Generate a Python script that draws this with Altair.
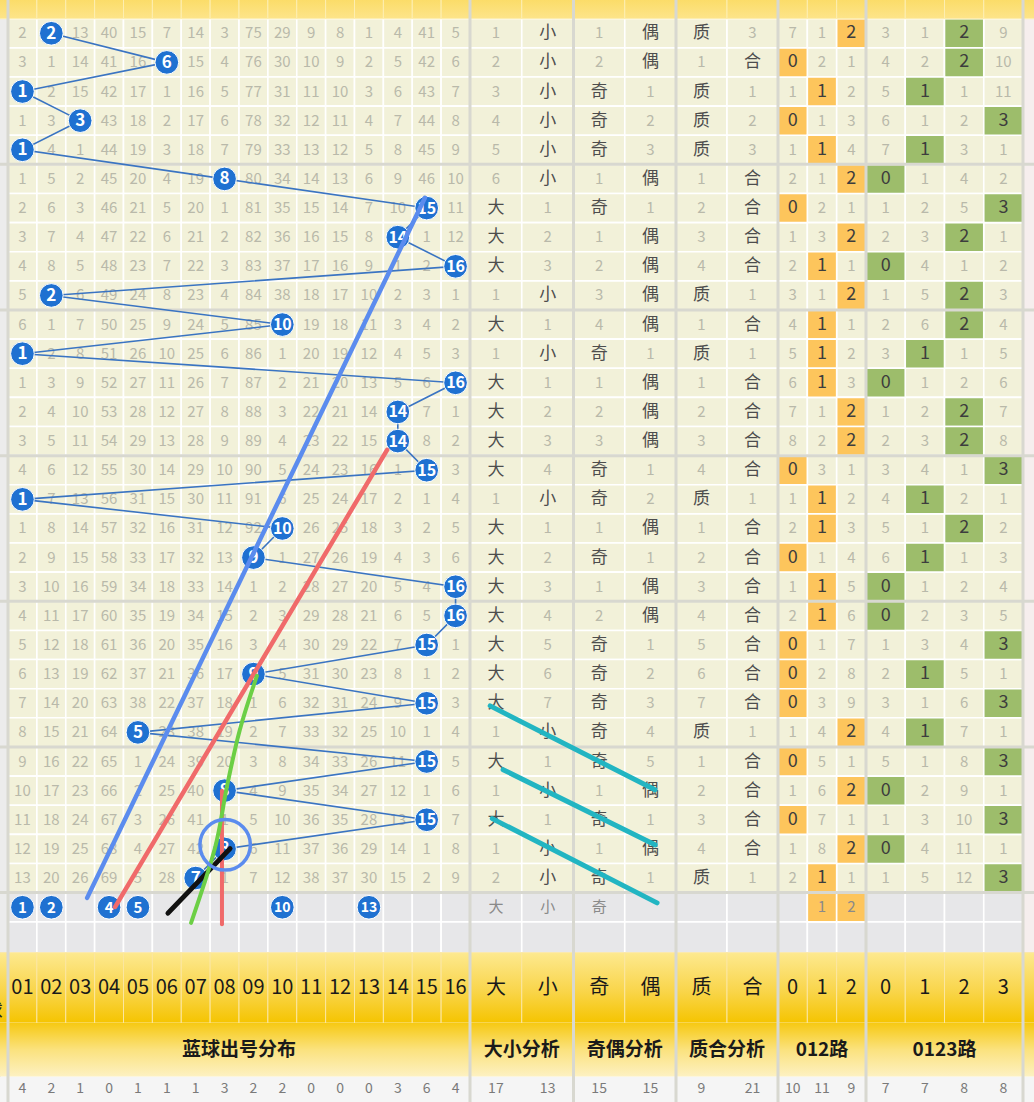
import altair as alt
import pandas as pd

# ---------------- data ----------------
drawn = [2, 6, 1, 3, 1, 8, 15, 14, 16, 2, 10, 1, 16, 14, 14, 15, 1, 10, 9, 16,
         16, 15, 9, 15, 5, 15, 8, 15, 8, 7]

omit = [
    [2, 0, 13, 40, 15, 7, 14, 3, 75, 29, 9, 8, 1, 4, 41, 5],
    [3, 1, 14, 41, 16, 0, 15, 4, 76, 30, 10, 9, 2, 5, 42, 6],
    [0, 2, 15, 42, 17, 1, 16, 5, 77, 31, 11, 10, 3, 6, 43, 7],
    [1, 3, 0, 43, 18, 2, 17, 6, 78, 32, 12, 11, 4, 7, 44, 8],
    [0, 4, 1, 44, 19, 3, 18, 7, 79, 33, 13, 12, 5, 8, 45, 9],
    [1, 5, 2, 45, 20, 4, 19, 0, 80, 34, 14, 13, 6, 9, 46, 10],
    [2, 6, 3, 46, 21, 5, 20, 1, 81, 35, 15, 14, 7, 10, 0, 11],
    [3, 7, 4, 47, 22, 6, 21, 2, 82, 36, 16, 15, 8, 0, 1, 12],
    [4, 8, 5, 48, 23, 7, 22, 3, 83, 37, 17, 16, 9, 1, 2, 0],
    [5, 0, 6, 49, 24, 8, 23, 4, 84, 38, 18, 17, 10, 2, 3, 1],
    [6, 1, 7, 50, 25, 9, 24, 5, 85, 0, 19, 18, 11, 3, 4, 2],
    [0, 2, 8, 51, 26, 10, 25, 6, 86, 1, 20, 19, 12, 4, 5, 3],
    [1, 3, 9, 52, 27, 11, 26, 7, 87, 2, 21, 20, 13, 5, 6, 0],
    [2, 4, 10, 53, 28, 12, 27, 8, 88, 3, 22, 21, 14, 0, 7, 1],
    [3, 5, 11, 54, 29, 13, 28, 9, 89, 4, 23, 22, 15, 0, 8, 2],
    [4, 6, 12, 55, 30, 14, 29, 10, 90, 5, 24, 23, 16, 1, 0, 3],
    [0, 7, 13, 56, 31, 15, 30, 11, 91, 6, 25, 24, 17, 2, 1, 4],
    [1, 8, 14, 57, 32, 16, 31, 12, 92, 0, 26, 25, 18, 3, 2, 5],
    [2, 9, 15, 58, 33, 17, 32, 13, 0, 1, 27, 26, 19, 4, 3, 6],
    [3, 10, 16, 59, 34, 18, 33, 14, 1, 2, 28, 27, 20, 5, 4, 0],
    [4, 11, 17, 60, 35, 19, 34, 15, 2, 3, 29, 28, 21, 6, 5, 0],
    [5, 12, 18, 61, 36, 20, 35, 16, 3, 4, 30, 29, 22, 7, 0, 1],
    [6, 13, 19, 62, 37, 21, 36, 17, 0, 5, 31, 30, 23, 8, 1, 2],
    [7, 14, 20, 63, 38, 22, 37, 18, 1, 6, 32, 31, 24, 9, 0, 3],
    [8, 15, 21, 64, 0, 23, 38, 19, 2, 7, 33, 32, 25, 10, 1, 4],
    [9, 16, 22, 65, 1, 24, 39, 20, 3, 8, 34, 33, 26, 11, 0, 5],
    [10, 17, 23, 66, 2, 25, 40, 0, 4, 9, 35, 34, 27, 12, 1, 6],
    [11, 18, 24, 67, 3, 26, 41, 1, 5, 10, 36, 35, 28, 13, 0, 7],
    [12, 19, 25, 68, 4, 27, 42, 0, 6, 11, 37, 36, 29, 14, 1, 8],
    [13, 20, 26, 69, 5, 28, 0, 1, 7, 12, 38, 37, 30, 15, 2, 9],
]

big_small = [("1", "小"), ("2", "小"), ("3", "小"), ("4", "小"), ("5", "小"),
             ("6", "小"), ("大", "1"), ("大", "2"), ("大", "3"), ("1", "小"),
             ("大", "1"), ("1", "小"), ("大", "1"), ("大", "2"), ("大", "3"),
             ("大", "4"), ("1", "小"), ("大", "1"), ("大", "2"), ("大", "3"),
             ("大", "4"), ("大", "5"), ("大", "6"), ("大", "7"), ("1", "小"),
             ("大", "1"), ("1", "小"), ("大", "1"), ("1", "小"), ("2", "小")]

odd_even = [("1", "偶"), ("2", "偶"), ("奇", "1"), ("奇", "2"), ("奇", "3"),
            ("1", "偶"), ("奇", "1"), ("1", "偶"), ("2", "偶"), ("3", "偶"),
            ("4", "偶"), ("奇", "1"), ("1", "偶"), ("2", "偶"), ("3", "偶"),
            ("奇", "1"), ("奇", "2"), ("1", "偶"), ("奇", "1"), ("1", "偶"),
            ("2", "偶"), ("奇", "1"), ("奇", "2"), ("奇", "3"), ("奇", "4"),
            ("奇", "5"), ("1", "偶"), ("奇", "1"), ("1", "偶"), ("奇", "1")]

prime_comp = [("质", "3"), ("1", "合"), ("质", "1"), ("质", "2"), ("质", "3"),
              ("1", "合"), ("2", "合"), ("3", "合"), ("4", "合"), ("质", "1"),
              ("1", "合"), ("质", "1"), ("1", "合"), ("2", "合"), ("3", "合"),
              ("4", "合"), ("质", "1"), ("1", "合"), ("2", "合"), ("3", "合"),
              ("4", "合"), ("5", "合"), ("6", "合"), ("7", "合"), ("质", "1"),
              ("1", "合"), ("2", "合"), ("3", "合"), ("4", "合"), ("质", "1")]

road3 = [[7, 1, 2], [0, 2, 1], [1, 1, 2], [0, 1, 3], [1, 1, 4], [2, 1, 2],
         [0, 2, 1], [1, 3, 2], [2, 1, 1], [3, 1, 2], [4, 1, 1], [5, 1, 2],
         [6, 1, 3], [7, 1, 2], [8, 2, 2], [0, 3, 1], [1, 1, 2], [2, 1, 3],
         [0, 1, 4], [1, 1, 5], [2, 1, 6], [0, 1, 7], [0, 2, 8], [0, 3, 9],
         [1, 4, 2], [0, 5, 1], [1, 6, 2], [0, 7, 1], [1, 8, 2], [2, 1, 1]]

road4 = [[3, 1, 2, 9], [4, 2, 2, 10], [5, 1, 1, 11], [6, 1, 2, 3], [7, 1, 3, 1],
         [0, 1, 4, 2], [1, 2, 5, 3], [2, 3, 2, 1], [0, 4, 1, 2], [1, 5, 2, 3],
         [2, 6, 2, 4], [3, 1, 1, 5], [0, 1, 2, 6], [1, 2, 2, 7], [2, 3, 2, 8],
         [3, 4, 1, 3], [4, 1, 2, 1], [5, 1, 2, 2], [6, 1, 1, 3], [0, 1, 2, 4],
         [0, 2, 3, 5], [1, 3, 4, 3], [2, 1, 5, 1], [3, 1, 6, 3], [4, 1, 7, 1],
         [5, 1, 8, 3], [0, 2, 9, 1], [1, 3, 10, 3], [0, 4, 11, 1], [1, 5, 12, 3]]

pred_balls = [1, 2, 4, 5, 10, 13]
pred_texts = ["大", "小", "奇"]
pred_road3 = [1, 2]

blue_headers = ["01", "02", "03", "04", "05", "06", "07", "08", "09", "10",
                "11", "12", "13", "14", "15", "16"]
right_headers = ["大", "小", "奇", "偶", "质", "合", "0", "1", "2", "0", "1", "2", "3"]
group_labels = ["蓝球出号分布", "大小分析", "奇偶分析", "质合分析", "012路", "0123路"]
totals = [4, 2, 1, 0, 1, 1, 1, 3, 2, 2, 0, 0, 0, 3, 6, 4,
          17, 13, 15, 15, 9, 21, 10, 11, 9, 7, 7, 8, 8]

# ---------------- layout (grid units -> pixels, piecewise) ----------------
XD = [0, 16, 18, 20, 22, 25, 29]
XR = [8, 470, 573.5, 676, 778, 866, 1023]
YD = [0, 30, 31, 32, 33, 34, 35]
YR = [18.7, 892.6, 921.9, 952.7, 1023, 1076.5, 1102]
sections = [(0, 16), (16, 18), (18, 20), (20, 22), (22, 25), (25, 29)]
LEFT, RIGHT = -0.3, 29.3

xs = alt.Scale(domain=XD, range=XR, nice=False, zero=False)
ys = alt.Scale(domain=YD, range=YR, nice=False, zero=False)

FONT = "Noto Sans CJK SC"
CREAM = "#f2f1d9"
GREY_ROW = "#e7e7e9"
ORANGE = "#fdc55c"
GREEN = "#9dbd6b"
BALL = "#1f71d1"
SEP = "#d8d8d0"


def rect_layer(df, **kw):
    enc = dict(x=alt.X("u0:Q", scale=xs, axis=None), x2="u1:Q",
               y=alt.Y("v0:Q", scale=ys, axis=None), y2="v1:Q")
    if "fill" in df.columns:
        enc["fill"] = alt.Fill("fill:N", scale=None)
    return alt.Chart(df).mark_rect(**kw).encode(**enc)


def text_layer(df, **kw):
    return alt.Chart(df).mark_text(font=FONT, baseline="middle", align="center", **kw).encode(
        x=alt.X("u:Q", scale=xs, axis=None), y=alt.Y("v:Q", scale=ys, axis=None), text="t:N")


# ---------------- backgrounds ----------------
cells = []
for r in range(30):
    for c in range(29):
        cells.append(dict(u0=c, u1=c + 1, v0=r, v1=r + 1, fill=CREAM))
for r in (30, 31):
    for c in range(29):
        cells.append(dict(u0=c, u1=c + 1, v0=r, v1=r + 1, fill=GREY_ROW))
hl = []
for r, d in enumerate(drawn):
    hl.append(dict(u0=22 + d % 3, u1=23 + d % 3, v0=r, v1=r + 1, fill=ORANGE))
    hl.append(dict(u0=25 + d % 4, u1=26 + d % 4, v0=r, v1=r + 1, fill=GREEN))
for k in pred_road3:
    hl.append(dict(u0=22 + k, u1=23 + k, v0=30, v1=31, fill=ORANGE))
cells_df = pd.DataFrame(cells + hl)

strips_df = pd.DataFrame([
    dict(u0=LEFT, u1=0, v0=0, v1=32, fill="#ececec"),
    dict(u0=29, u1=RIGHT, v0=0, v1=32, fill="#f6eeee"),
    dict(u0=LEFT, u1=RIGHT, v0=34, v1=35.2, fill="#f5f5f5"),
])

grad_top = alt.Gradient(gradient="linear", x1=0, x2=0, y1=0, y2=1,
                        stops=[alt.GradientStop(color="#fbdc66", offset=0),
                               alt.GradientStop(color="#fde48a", offset=1)])
grad_head = alt.Gradient(gradient="linear", x1=0, x2=0, y1=0, y2=1,
                         stops=[alt.GradientStop(color="#fde98f", offset=0),
                                alt.GradientStop(color="#f9d54a", offset=0.55),
                                alt.GradientStop(color="#f5c400", offset=1)])
grad_group = alt.Gradient(gradient="linear", x1=0, x2=0, y1=0, y2=1,
                          stops=[alt.GradientStop(color="#f6c913", offset=0),
                                 alt.GradientStop(color="#fbe27e", offset=0.5),
                                 alt.GradientStop(color="#fdf1c2", offset=1)])

col_edges = [(LEFT, 0)] + [(c, c + 1) for c in range(29)] + [(29, RIGHT)]
top_df = pd.DataFrame([dict(u0=a, u1=b, v0=-0.7, v1=0) for a, b in col_edges])
head_df = pd.DataFrame([dict(u0=a, u1=b, v0=32, v1=33) for a, b in col_edges])
group_df = pd.DataFrame([dict(u0=a, u1=b, v0=33, v1=34)
                         for a, b in [(LEFT, 0)] + sections + [(29, RIGHT)]])

# ---------------- separators ----------------
hsep_df = pd.DataFrame([dict(u0=LEFT, u1=RIGHT, v=v) for v in (5, 10, 15, 20, 25, 30)])
vsep_df = pd.DataFrame([dict(u=u, v0=-0.7, v1=35.2) for u in (0, 16, 18, 20, 22, 25, 29)])

hsep = alt.Chart(hsep_df).mark_rule(color=SEP, strokeWidth=3).encode(
    x=alt.X("u0:Q", scale=xs, axis=None), x2="u1:Q", y=alt.Y("v:Q", scale=ys, axis=None))
vsep = alt.Chart(vsep_df).mark_rule(color=SEP, strokeWidth=3).encode(
    x=alt.X("u:Q", scale=xs, axis=None), y=alt.Y("v0:Q", scale=ys, axis=None), y2="v1:Q")

# ---------------- texts in grid ----------------
omit_t, cn_t, hl_t = [], [], []
for r in range(30):
    for c in range(16):
        if c + 1 != drawn[r]:
            omit_t.append(dict(u=c + 0.5, v=r + 0.5, t=str(omit[r][c])))
    right = list(big_small[r]) + list(odd_even[r]) + list(prime_comp[r])
    for j, s in enumerate(right):
        rec = dict(u=16 + j + 0.5, v=r + 0.5, t=s)
        (omit_t if s.isdigit() else cn_t).append(rec)
    d = drawn[r]
    for j, val in enumerate(road3[r]):
        rec = dict(u=22 + j + 0.5, v=r + 0.5, t=str(val))
        (hl_t if j == d % 3 else omit_t).append(rec)
    for j, val in enumerate(road4[r]):
        rec = dict(u=25 + j + 0.5, v=r + 0.5, t=str(val))
        (hl_t if j == d % 4 else omit_t).append(rec)

pred_t = [dict(u=16 + j + 0.5, v=30.5, t=s) for j, s in enumerate(pred_texts)]
pred_t += [dict(u=22 + k + 0.5, v=30.5, t=str(k)) for k in pred_road3]

head_t = [dict(u=c + 0.5, v=32.5, t=s) for c, s in enumerate(blue_headers + right_headers)]
group_t = [dict(u=(a + b) / 2, v=33.5, t=s) for (a, b), s in zip(sections, group_labels)]
total_t = [dict(u=c + 0.5, v=34.5, t=str(s)) for c, s in enumerate(totals)]

# ---------------- balls ----------------
balls = [dict(u=d - 0.5, v=r + 0.5, t=str(d), o=r, fs=17 if d < 10 else 16)
         for r, d in enumerate(drawn)]
balls_df = pd.DataFrame(balls)
pballs_df = pd.DataFrame([dict(u=b - 0.5, v=30.5, t=str(b), fs=15 if b < 10 else 14)
                          for b in pred_balls])
allballs_df = pd.concat([balls_df, pballs_df], ignore_index=True)

links = alt.Chart(balls_df).mark_line(color="#3a74c2", strokeWidth=1.6).encode(
    x=alt.X("u:Q", scale=xs, axis=None), y=alt.Y("v:Q", scale=ys, axis=None), order="o:Q")

ball_pts = alt.Chart(allballs_df).mark_circle(
    color=BALL, opacity=1, size=560, stroke="#ffffff", strokeWidth=1).encode(
    x=alt.X("u:Q", scale=xs, axis=None), y=alt.Y("v:Q", scale=ys, axis=None))
ball_txt = alt.Chart(allballs_df).mark_text(
    font=FONT, fontWeight="bold", color="white", baseline="middle", align="center", dy=0.5).encode(
    x=alt.X("u:Q", scale=xs, axis=None), y=alt.Y("v:Q", scale=ys, axis=None), text="t:N",
    size=alt.Size("fs:Q", scale=None))

# ---------------- hand-drawn trend annotations (grid units) ----------------
annot = [
    ("blue", "#5b8cee", 4.5, [(2.74, 30.18), (14.44, 6.15)]),
    ("red", "#f06a6a", 4.5, [(3.71, 30.49), (13.13, 14.80)]),
    ("redv", "#f06a6a", 4, [(7.41, 26.5), (7.41, 31.08)]),
    ("black", "#111111", 5, [(5.54, 30.70), (7.69, 28.49)]),
    ("t1", "#22b5c2", 5, [(16.39, 23.59), (19.59, 26.47)]),
    ("t2", "#22b5c2", 5, [(16.64, 25.78), (19.59, 28.36)]),
    ("t3", "#22b5c2", 5, [(16.43, 27.46), (19.63, 30.35)]),
]
arows = []
for name, col, w, pts in annot:
    for i, (u, v) in enumerate(pts):
        arows.append(dict(id=name, c=col, w=w, u=u, v=v, o=i))
annot_df = pd.DataFrame(arows)
green_df = pd.DataFrame([dict(u=u, v=v, o=i) for i, (u, v) in enumerate(
    [(8.62, 22.56), (8.03, 24.41), (7.58, 26.37), (7.17, 28.46), (6.34, 31.03)])])

annot_lines = alt.Chart(annot_df).mark_line(strokeCap="round").encode(
    x=alt.X("u:Q", scale=xs, axis=None), y=alt.Y("v:Q", scale=ys, axis=None),
    detail="id:N", order="o:Q",
    color=alt.Color("c:N", scale=None), strokeWidth=alt.StrokeWidth("w:Q", scale=None))
green_line = alt.Chart(green_df).mark_line(
    color="#6ccf45", strokeWidth=4, strokeCap="round", interpolate="cardinal").encode(
    x=alt.X("u:Q", scale=xs, axis=None), y=alt.Y("v:Q", scale=ys, axis=None), order="o:Q")
ring = alt.Chart(pd.DataFrame([dict(u=7.52, v=28.36)])).mark_point(
    shape="circle", filled=False, color="#5b8cee", strokeWidth=3.5, size=2550, opacity=1).encode(
    x=alt.X("u:Q", scale=xs, axis=None), y=alt.Y("v:Q", scale=ys, axis=None))

edge_char = text_layer(pd.DataFrame([dict(u=-0.5, v=32.85, t="球")]), fontSize=18, color="#222")

chart = alt.layer(
    rect_layer(strips_df),
    rect_layer(cells_df, stroke="white", strokeWidth=1.6),
    rect_layer(top_df, fill=grad_top, stroke="#fdeeb0", strokeWidth=1),
    rect_layer(head_df, fill=grad_head, stroke="#fbe6a0", strokeWidth=1),
    rect_layer(group_df, fill=grad_group),
    hsep, vsep,
    text_layer(pd.DataFrame(omit_t), fontSize=15, color="#b9b9aa"),
    text_layer(pd.DataFrame(cn_t), fontSize=17, color="#4d4d4d"),
    text_layer(pd.DataFrame(hl_t), fontSize=18, color="#3d3d3d"),
    text_layer(pd.DataFrame(pred_t), fontSize=15, color="#8a8a8a"),
    text_layer(pd.DataFrame(head_t), fontSize=20, color="#1a1a1a"),
    text_layer(pd.DataFrame(group_t), fontSize=19, fontWeight="bold", color="#1a1a1a"),
    text_layer(pd.DataFrame(total_t), fontSize=14, color="#7a7a7a"),
    edge_char,
    links, ball_pts, ball_txt,
    annot_lines, green_line, ring,
).properties(width=1034, height=1102, padding=0, autosize="none"
).configure_view(stroke=None).configure(background="white")

chart.save("out.html", embed_options={"renderer": "svg", "actions": False})
